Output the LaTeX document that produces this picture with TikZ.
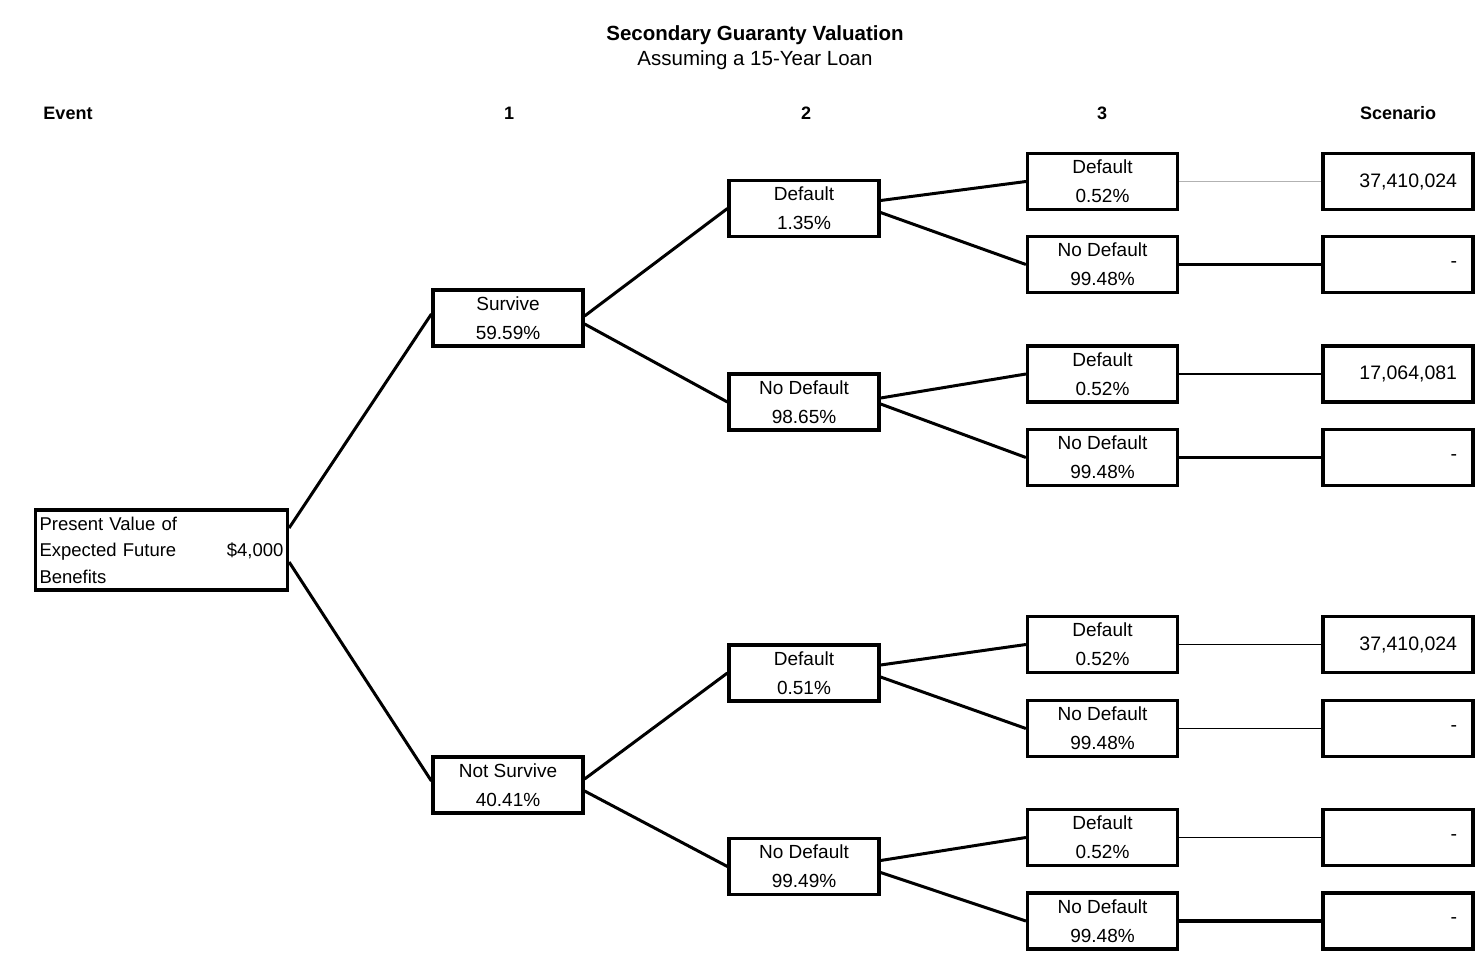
\documentclass[tikz,border=0pt]{standalone}
\usepackage{fontspec}
\setmainfont{Liberation Sans}
\begin{document}
\begin{tikzpicture}[x=1pt,y=-1pt,
  box/.style={draw, line width=3.2pt, inner sep=0pt, minimum width=150pt, minimum height=56pt, align=center, font=\fontsize{19}{29}\selectfont},
  rootbox/.style={draw, line width=3.2pt, inner sep=4pt, minimum height=80pt, align=left, text width=244pt, font=\fontsize{18.5}{26.5}\selectfont},
  valbox/.style={draw, line width=3.2pt, inner sep=0pt, minimum width=150pt, minimum height=56pt},
  val/.style={anchor=east, font=\fontsize{19.5}{22}\selectfont},
  hdr/.style={font=\bfseries\fontsize{18}{21}\selectfont},
  link/.style={line width=3pt},
  thinlink/.style={line width=1.4pt},
  thicklink/.style={line width=3.8pt}
]
\useasboundingbox (0,0) rectangle (1479,955);
% titles
\node[font=\bfseries\fontsize{20.5}{24}\selectfont] (title) at (755,35) {Secondary Guaranty Valuation};
\node[font=\fontsize{20.5}{24}\selectfont] (subtitle) at (755,60) {Assuming a 15-Year Loan};
\node[hdr] (hEvent) at (68,113) {Event};
\node[hdr] (h1) at (509,113) {1};
\node[hdr] (h2) at (806,113) {2};
\node[hdr] (h3) at (1102,113) {3};
\node[hdr] (hScen) at (1398,113) {Scenario};
% root
\node[rootbox] (root) at (161.5,550) {Present Value of\\Expected Future\hfill\$4,000\\Benefits};
% level 1
\node[box] (s) at (508,318) {Survive\\59.59\%};
\node[box] (ns) at (508,785) {Not Survive\\40.41\%};
% level 2
\node[box] (d1) at (804,208.5) {Default\\1.35\%};
\node[box] (n1) at (804,402) {No Default\\98.65\%};
\node[box] (d2) at (804,673) {Default\\0.51\%};
\node[box] (n2) at (804,866.5) {No Default\\99.49\%};
% level 3
\node[box] (a1) at (1102.5,181.5) {Default\\0.52\%};
\node[box] (a2) at (1102.5,264.5) {No Default\\99.48\%};
\node[box] (a3) at (1102.5,374) {Default\\0.52\%};
\node[box] (a4) at (1102.5,457.5) {No Default\\99.48\%};
\node[box] (a5) at (1102.5,644.5) {Default\\0.52\%};
\node[box] (a6) at (1102.5,728.5) {No Default\\99.48\%};
\node[box] (a7) at (1102.5,837.5) {Default\\0.52\%};
\node[box] (a8) at (1102.5,921) {No Default\\99.48\%};
% scenario boxes
\node[valbox] (v1) at (1398,181.5) {};
\node[valbox] (v2) at (1398,264.5) {};
\node[valbox] (v3) at (1398,374) {};
\node[valbox] (v4) at (1398,457.5) {};
\node[valbox] (v5) at (1398,644.5) {};
\node[valbox] (v6) at (1398,728.5) {};
\node[valbox] (v7) at (1398,837.5) {};
\node[valbox] (v8) at (1398,921) {};
\node[val] (t1) at ([xshift=-14pt]v1.east) {37,410,024};
\node[val] (t2) at ([xshift=-14pt]v2.east) {-};
\node[val] (t3) at ([xshift=-14pt]v3.east) {17,064,081};
\node[val] (t4) at ([xshift=-14pt]v4.east) {-};
\node[val] (t5) at ([xshift=-14pt]v5.east) {37,410,024};
\node[val] (t6) at ([xshift=-14pt]v6.east) {-};
\node[val] (t7) at ([xshift=-14pt]v7.east) {-};
\node[val] (t8) at ([xshift=-14pt]v8.east) {-};
% connectors
\draw[link] ([yshift=22pt]root.east) -- ([yshift=4pt]s.west);
\draw[link] ([yshift=-12pt]root.east) -- ([yshift=4pt]ns.west);
\draw[link] ([yshift=2pt]s.east) -- (d1.west);
\draw[link] ([yshift=-6pt]s.east) -- (n1.west);
\draw[link] ([yshift=6pt]ns.east) -- (d2.west);
\draw[link] ([yshift=-6pt]ns.east) -- (n2.west);
\draw[link] ([yshift=8pt]d1.east) -- (a1.west);
\draw[link] ([yshift=-4pt]d1.east) -- (a2.west);
\draw[link] ([yshift=4pt]n1.east) -- (a3.west);
\draw[link] ([yshift=-2pt]n1.east) -- (a4.west);
\draw[link] ([yshift=8pt]d2.east) -- (a5.west);
\draw[link] ([yshift=-4pt]d2.east) -- (a6.west);
\draw[link] ([yshift=6pt]n2.east) -- (a7.west);
\draw[link] ([yshift=-6pt]n2.east) -- (a8.west);
\draw[thinlink, draw=gray!60] (a1.east) -- (v1.west);
\draw[thicklink] (a2.east) -- (v2.west);
\draw[thinlink] (a3.east) -- (v3.west);
\draw[thicklink] (a4.east) -- (v4.west);
\draw[thinlink] (a5.east) -- (v5.west);
\draw[thinlink] (a6.east) -- (v6.west);
\draw[thinlink] (a7.east) -- (v7.west);
\draw[thicklink] (a8.east) -- (v8.west);
\end{tikzpicture}
\end{document}
